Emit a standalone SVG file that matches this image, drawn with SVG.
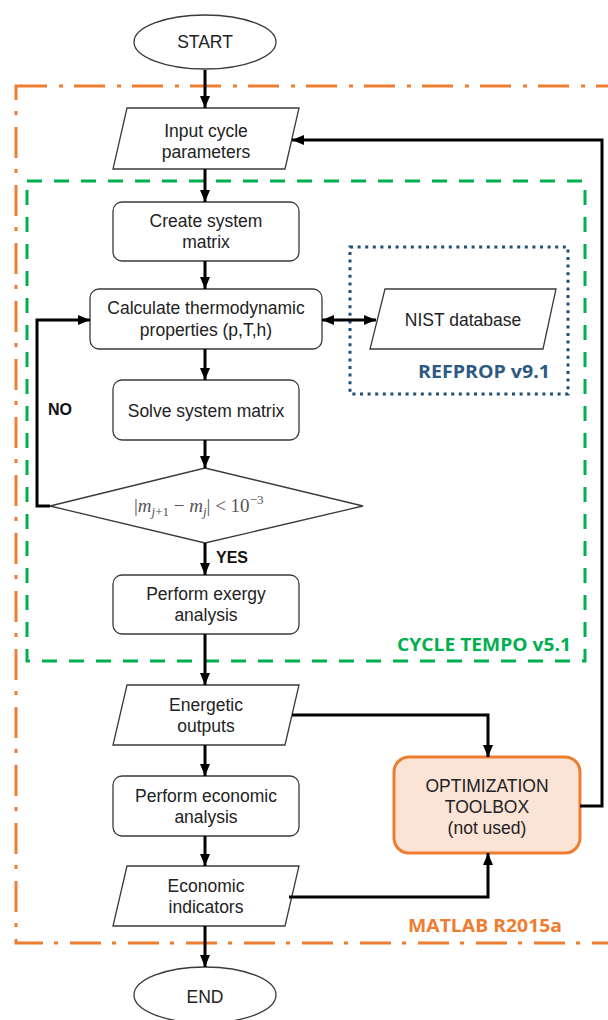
<svg xmlns="http://www.w3.org/2000/svg" width="608" height="1020" viewBox="0 0 608 1020">
<style>
.node{fill:#fff;stroke:#3a3a3a;stroke-width:1.3}
.t{font-family:"Liberation Sans",Arial,sans-serif;font-size:17.5px;fill:#222;text-anchor:middle}
.lbl{font-family:"Liberation Sans",Arial,sans-serif;font-size:16px;font-weight:bold;fill:#111}
.reg{font-family:"Open Sans","Liberation Sans",sans-serif;font-weight:bold;font-size:18px}
.conn{fill:none;stroke:#000;stroke-width:3}
.math{font-family:"Liberation Serif","DejaVu Serif",serif;font-size:19px;fill:#555}
</style>
<defs>
<marker id="ah" markerUnits="userSpaceOnUse" markerWidth="12" markerHeight="10" refX="12" refY="5" orient="auto-start-reverse" viewBox="0 0 12 10">
<path d="M0,0 L12,5 L0,10 z" fill="#000"/>
</marker>
</defs>

<g id="regions">
<rect id="matlab" x="16" y="86" width="600" height="857" fill="none" stroke="#ed7d31" stroke-width="3" stroke-dasharray="31 12 4 11"/>
<rect id="cycletempo" x="27" y="181" width="558" height="480" fill="none" stroke="#00b050" stroke-width="3" stroke-dasharray="15 12"/>
<rect id="refprop" x="350" y="247" width="218" height="147" fill="none" stroke="#1f4e79" stroke-width="3" stroke-dasharray="3 4.6"/>
<text class="reg" x="418" y="378" fill="#2e5984" textLength="132" lengthAdjust="spacingAndGlyphs" font-size="17">REFPROP v9.1</text>
<text class="reg" x="397" y="651" fill="#00b050" textLength="174" lengthAdjust="spacingAndGlyphs">CYCLE TEMPO v5.1</text>
<text class="reg" x="408" y="932" fill="#ed7d31" textLength="154" lengthAdjust="spacingAndGlyphs">MATLAB R2015a</text>
</g>

<g id="start"><ellipse class="node" cx="205" cy="42" rx="71" ry="27"/><text class="t" x="205" y="48">START</text></g>
<g id="input"><polygon class="node" points="127,108 299,108 285,169 113,169"/><text class="t" x="206" y="137">Input cycle</text><text class="t" x="206" y="158">parameters</text></g>
<g id="create"><rect class="node" x="113" y="202" width="186" height="59" rx="9"/><text class="t" x="206" y="227">Create system</text><text class="t" x="206" y="248">matrix</text></g>
<g id="calc"><rect class="node" x="90" y="289" width="232" height="60" rx="9"/><text class="t" x="206" y="314">Calculate thermodynamic</text><text class="t" x="206" y="336">properties (p,T,h)</text></g>
<g id="nist"><polygon class="node" points="385,289 556,289 543,349 370,349"/><text class="t" x="463" y="326">NIST database</text></g>
<g id="solve"><rect class="node" x="113" y="380" width="186" height="60" rx="9"/><text class="t" x="206" y="417">Solve system matrix</text></g>
<g id="check"><polygon class="node" points="50,506 205,468 363,506 205,543"/>
<text class="math" x="134" y="512">|<tspan font-style="italic">m</tspan><tspan font-size="13" dy="4"><tspan font-style="italic">j</tspan>+1</tspan><tspan dy="-4"> − </tspan><tspan font-style="italic">m</tspan><tspan font-size="13" font-style="italic" dy="4">j</tspan><tspan dy="-4">| &lt; 10</tspan><tspan font-size="13" dy="-8">−3</tspan></text></g>
<g id="exergy"><rect class="node" x="113" y="575" width="186" height="59" rx="9"/><text class="t" x="206" y="600">Perform exergy</text><text class="t" x="206" y="621">analysis</text></g>
<g id="energetic"><polygon class="node" points="127,685 299,685 285,745 113,745"/><text class="t" x="206" y="711">Energetic</text><text class="t" x="206" y="732">outputs</text></g>
<g id="economic"><rect class="node" x="113" y="776" width="186" height="60" rx="9"/><text class="t" x="206" y="802">Perform economic</text><text class="t" x="206" y="823">analysis</text></g>
<g id="indicators"><polygon class="node" points="127,866 299,866 285,926 113,926"/><text class="t" x="206" y="892">Economic</text><text class="t" x="206" y="913">indicators</text></g>
<g id="optim"><rect x="394" y="757" width="186" height="96" rx="15" fill="#fbe3d6" stroke="#ed7d31" stroke-width="3"/><text class="t" x="487" y="792">OPTIMIZATION</text><text class="t" x="487" y="813">TOOLBOX</text><text class="t" x="487" y="834">(not used)</text></g>
<g id="end"><ellipse class="node" cx="205" cy="995" rx="71" ry="28"/><text class="t" x="205" y="1003">END</text></g>

<g id="connectors">
<path class="conn" marker-end="url(#ah)" d="M205,70 V108"/>
<path class="conn" marker-end="url(#ah)" d="M205,169 V202"/>
<path class="conn" marker-end="url(#ah)" d="M205,261 V289"/>
<path class="conn" marker-end="url(#ah)" d="M205,349 V380"/>
<path class="conn" marker-end="url(#ah)" d="M205,440 V468"/>
<path class="conn" marker-end="url(#ah)" d="M205,543 V575"/>
<path class="conn" marker-end="url(#ah)" d="M205,634 V685"/>
<path class="conn" marker-end="url(#ah)" d="M205,745 V776"/>
<path class="conn" marker-end="url(#ah)" d="M205,836 V866"/>
<path class="conn" marker-end="url(#ah)" d="M205,926 V967"/>
<path class="conn" marker-end="url(#ah)" d="M50,506 H37 V320 H90"/>
<path class="conn" marker-start="url(#ah)" marker-end="url(#ah)" d="M322,320 H376"/>
<path class="conn" marker-end="url(#ah)" d="M292,715 H488 V757"/>
<path class="conn" marker-end="url(#ah)" d="M289,897 H488 V853"/>
<path class="conn" marker-end="url(#ah)" d="M580,806 H602 V140 H292"/>
<text class="lbl" x="48" y="415">NO</text>
<text class="lbl" x="216" y="563">YES</text>
</g>
</svg>
